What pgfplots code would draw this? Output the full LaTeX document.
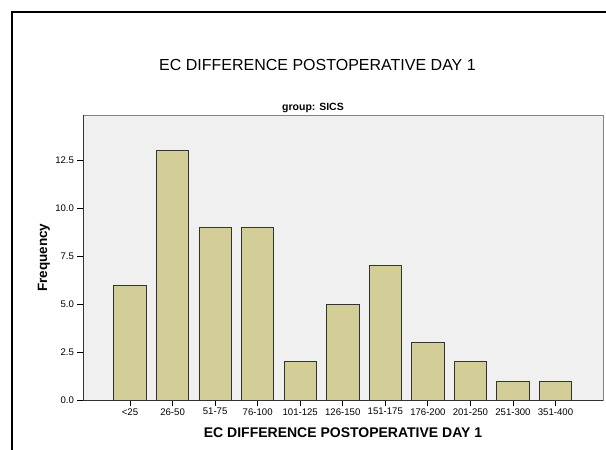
\documentclass[border=0pt]{standalone}
\usepackage{fontspec}
\setmainfont{Liberation Sans}
\usepackage{pgfplots}
\pgfplotsset{compat=1.18}
\definecolor{barfill}{RGB}{211,206,151}
\definecolor{plotbg}{RGB}{240,240,240}
\definecolor{frameg}{RGB}{130,130,130}
\begin{document}
\begin{tikzpicture}[x=1pt,y=1pt]
\useasboundingbox (0,0) rectangle (606,450);
\fill[white] (0,0) rectangle (606,450);
\draw[black,line width=2pt] (12,0) -- (12,438) -- (606,438);
\node[font=\fontsize{16}{18}\selectfont] at (317.5,385.5) {EC DIFFERENCE POSTOPERATIVE DAY 1};
\node[font=\bfseries\fontsize{10.5}{12}\selectfont] at (313,342.5) {group: SICS};
\begin{axis}[
  at={(83pt,49.7pt)}, anchor=south west,
  scale only axis, width=520pt, height=285pt,
  xmin=-1.105, xmax=11.116, ymin=0, ymax=14.84,
  axis background/.style={fill=plotbg},
  axis line style={frameg, line width=0.9pt},
  xtick={0,...,10},
  xticklabels={<25,26-50,51-75,76-100,101-125,126-150,151-175,176-200,201-250,251-300,351-400},
  ytick={0,2.5,5,7.5,10,12.5},
  yticklabel style={/pgf/number format/.cd, fixed, fixed zerofill, precision=1},
  /pgf/number format/assume math mode=true,
  tick pos=left, tick align=outside, major tick length=5.5pt,
  tick style={black, line width=0.8pt},
  ticklabel style={font=\fontsize{9.6}{11}\selectfont},
  xticklabel style={yshift=1pt},
  xlabel={EC DIFFERENCE POSTOPERATIVE DAY 1},
  xlabel style={font=\bfseries\fontsize{14}{16}\selectfont, at={(0.5,0)}, anchor=center, yshift=-32.7pt},
  ylabel={Frequency},
  ylabel style={font=\bfseries\fontsize{13.5}{16}\selectfont, at={(axis description cs:-0.075,0.5)}, anchor=center, rotate=0},
  ybar, bar width=32.3pt,
]
\addplot[fill=barfill, draw=black!80, line width=0.8pt] coordinates {
(0,6) (1,13) (2,9) (3,9) (4,2) (5,5) (6,7) (7,3) (8,2) (9,1) (10,1)
};
\draw[black!80, line width=0.9pt] (rel axis cs:0,1) -- (rel axis cs:0,0) -- (rel axis cs:1,0);
\end{axis}
\end{tikzpicture}
\end{document}
